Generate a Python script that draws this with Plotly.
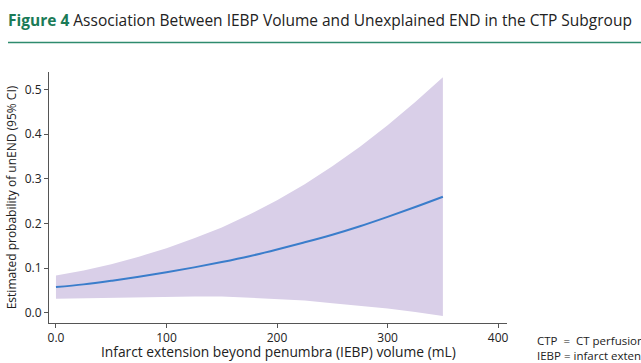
import plotly.graph_objects as go

# Data
iebp_ml = [0, 25, 50, 75, 100, 125, 150, 175, 200, 225, 250, 275, 300, 325, 350]
prob_est = [0.058, 0.064, 0.072, 0.081, 0.091, 0.102, 0.114, 0.127, 0.142, 0.158, 0.175, 0.194, 0.215, 0.237, 0.260]
ci_lower = [0.032, 0.033, 0.035, 0.036, 0.037, 0.037, 0.037, 0.034, 0.032, 0.028, 0.022, 0.016, 0.010, 0.002, -0.007]
ci_upper = [0.084, 0.095, 0.109, 0.126, 0.145, 0.167, 0.191, 0.220, 0.252, 0.288, 0.328, 0.372, 0.420, 0.472, 0.527]

x_tickvals = [0, 100, 200, 300, 400]
x_ticktext = ["0.0", "100", "200", "300", "400"]
y_tickvals = [0.0, 0.1, 0.2, 0.3, 0.4, 0.5]
y_ticktext = ["0.0", "0.1", "0.2", "0.3", "0.4", "0.5"]

FONT = "Open Sans"
GREEN = "#1b7b57"
BAND = "#d9cfe8"
LINE = "#3a7dcb"
TXT = "#222222"

fig = go.Figure()
fig.add_trace(go.Scatter(x=iebp_ml, y=ci_lower, mode="lines",
                         line=dict(width=0, color=BAND), hoverinfo="skip", showlegend=False))
fig.add_trace(go.Scatter(x=iebp_ml, y=ci_upper, mode="lines", fill="tonexty",
                         fillcolor=BAND, line=dict(width=0, color=BAND),
                         hoverinfo="skip", showlegend=False))
fig.add_trace(go.Scatter(x=iebp_ml, y=prob_est, mode="lines",
                         line=dict(width=2, color=LINE), line_shape="spline", showlegend=False))

W, H = 641, 363
L, R, T, B = 49, 134, 72, 40
pw, ph = W - L - R, H - T - B

def px_x(px):
    return (px - L) / pw

def px_y(py):
    return (H - B - py) / ph

fig.update_layout(
    width=W, height=H,
    margin=dict(l=L, r=R, t=T, b=B, autoexpand=False),
    paper_bgcolor="white", plot_bgcolor="white",
    font=dict(family=FONT, size=12, color=TXT),
    title=dict(
        text=f"<b><span style='color:{GREEN}'>Figure 4</span></b> Association Between IEBP Volume and Unexplained END in the CTP Subgroup",
        x=8 / W, xanchor="left", xref="container",
        y=1 - 20.5 / H, yanchor="middle", yref="container",
        font=dict(family=FONT, size=15.5, color=TXT), automargin=False,
    ),
    xaxis=dict(
        range=[-6.3, 408], tickvals=x_tickvals, ticktext=x_ticktext,
        showline=True, linecolor="#555555", linewidth=1,
        ticks="outside", ticklen=4, tickcolor="#555555",
        showgrid=False, zeroline=False, automargin=False,
        tickfont=dict(size=12, color=TXT),
    ),
    yaxis=dict(
        range=[-0.0224, 0.539], tickvals=y_tickvals, ticktext=y_ticktext,
        showline=True, linecolor="#555555", linewidth=1,
        ticks="outside", ticklen=4, tickcolor="#555555",
        showgrid=False, zeroline=False, automargin=False,
        tickfont=dict(size=12, color=TXT),
        title=dict(text="Estimated probability of unEND (95% CI)",
                   font=dict(size=12, color=TXT), standoff=5),
    ),
    shapes=[dict(type="line", xref="paper", yref="paper",
                 x0=px_x(8), x1=px_x(641), y0=px_y(42.5), y1=px_y(42.5),
                 line=dict(color="#2e8b6e", width=1.5))],
    annotations=[
        dict(text="Infarct extension beyond penumbra (IEBP) volume (mL)",
             xref="paper", yref="paper",
             x=px_x(278), y=px_y(351), xanchor="center", yanchor="middle",
             showarrow=False, font=dict(size=13.8, color=TXT)),
        dict(text="CTP&nbsp; = &nbsp;CT perfusion;<br>IEBP = infarct extension beyond penumbra.",
             xref="paper", yref="paper", align="left",
             x=px_x(535), y=px_y(348), xanchor="left", yanchor="middle",
             showarrow=False, font=dict(size=11.5, color=TXT)),
    ],
)

fig.write_html("out.html")
